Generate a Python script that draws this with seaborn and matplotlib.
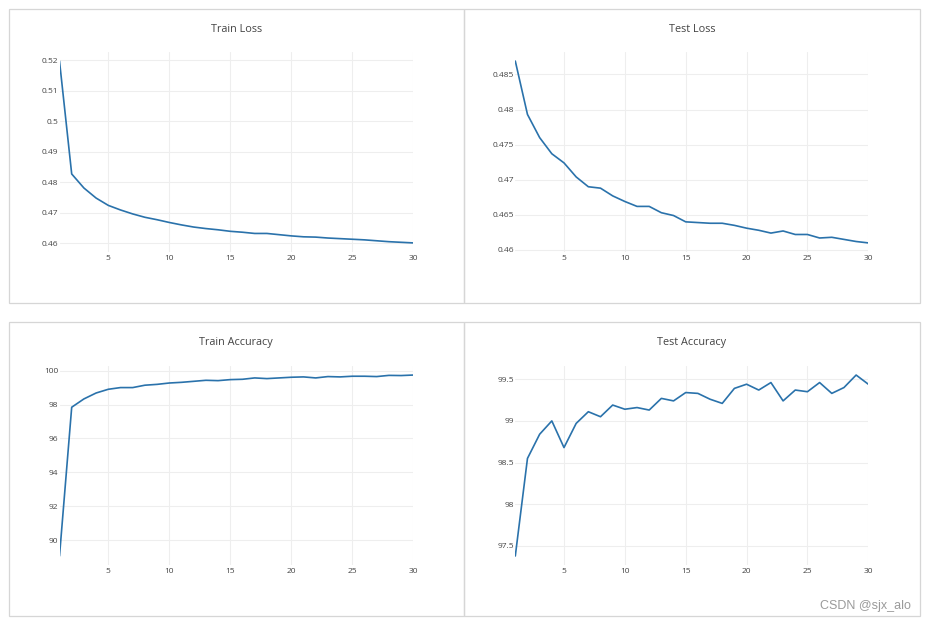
import numpy as np
import pandas as pd
import seaborn as sns
import matplotlib.pyplot as plt
from matplotlib.patches import Rectangle
from matplotlib.ticker import FixedLocator, FuncFormatter

epochs = list(range(1, 31))

train_loss = [0.5197, 0.4827, 0.4781, 0.4748, 0.4724, 0.4709, 0.4696, 0.4685, 0.4677, 0.4668,
              0.4660, 0.4653, 0.4648, 0.4644, 0.4639, 0.4636, 0.4632, 0.4632, 0.4628, 0.4624,
              0.4621, 0.4620, 0.4617, 0.4615, 0.4613, 0.4611, 0.4608, 0.4605, 0.4603, 0.4601]

test_loss = [0.4869, 0.4793, 0.4760, 0.4737, 0.4724, 0.4704, 0.4690, 0.4688, 0.4677, 0.4669,
             0.4662, 0.4662, 0.4653, 0.4649, 0.4640, 0.4639, 0.4638, 0.4638, 0.4635, 0.4631,
             0.4628, 0.4624, 0.4627, 0.4622, 0.4622, 0.4617, 0.4618, 0.4615, 0.4612, 0.4610]

train_acc = [89.06, 97.84, 98.33, 98.68, 98.90, 99.00, 99.00, 99.14, 99.19, 99.27,
             99.31, 99.37, 99.43, 99.41, 99.47, 99.49, 99.57, 99.53, 99.57, 99.61,
             99.63, 99.57, 99.65, 99.63, 99.67, 99.67, 99.65, 99.72, 99.71, 99.74]

test_acc = [97.38, 98.55, 98.84, 99.00, 98.68, 98.97, 99.11, 99.05, 99.19, 99.14,
            99.16, 99.13, 99.27, 99.24, 99.34, 99.33, 99.26, 99.21, 99.39, 99.44,
            99.37, 99.46, 99.24, 99.37, 99.35, 99.46, 99.33, 99.40, 99.55, 99.44]

titles = ["Train Loss", "Test Loss", "Train Accuracy", "Test Accuracy"]
yticks = [
    [0.46, 0.47, 0.48, 0.49, 0.50, 0.51, 0.52],
    [0.46, 0.465, 0.47, 0.475, 0.48, 0.485],
    [90, 92, 94, 96, 98, 100],
    [97.5, 98, 98.5, 99, 99.5],
]
xticks = [5, 10, 15, 20, 25, 30]

sns.set_style("white")
plt.rcParams["font.family"] = ["Open Sans", "DejaVu Sans"]

W, H = 926, 623
fig = plt.figure(figsize=(W / 100, H / 100), dpi=100)

# panel boxes (pixels): x0, y0, x1, y1
boxes = [(8.5, 8.5, 464, 302.5), (464, 8.5, 920, 302.5),
         (8.5, 321.5, 464, 616), (464, 321.5, 920, 616)]
# plot areas (pixels): left, top, right, bottom
areas = [(59.5, 52, 413.3, 252), (515.3, 52, 868.3, 252),
         (59.5, 366, 413.3, 565), (515.3, 366, 868.3, 565)]
title_y = [29, 29, 343, 343]

for x0, y0, x1, y1 in boxes:
    fig.patches.append(Rectangle((x0 / W, 1 - y1 / H), (x1 - x0) / W, (y1 - y0) / H,
                                 transform=fig.transFigure, fill=False,
                                 edgecolor="#d6d6d6", linewidth=0.9))


def fmt(v, pos):
    return f"{v:.3f}".rstrip("0").rstrip(".")


series = [train_loss, test_loss, train_acc, test_acc]
for i, vals in enumerate(series):
    l, t, r, b = areas[i]
    ax = fig.add_axes([l / W, 1 - b / H, (r - l) / W, (b - t) / H])
    df = pd.DataFrame({"epoch": epochs, "value": vals})
    sns.lineplot(data=df, x="epoch", y="value", ax=ax, color="#2a72ab", linewidth=1.2)
    lo, hi = min(vals), max(vals)
    pad = (hi - lo) * 0.05
    ax.set_ylim(lo - pad, hi + pad)
    ax.set_xlim(1, 30)
    ax.xaxis.set_major_locator(FixedLocator(xticks))
    ax.yaxis.set_major_locator(FixedLocator(yticks[i]))
    ax.yaxis.set_major_formatter(FuncFormatter(fmt))
    ax.set_xlabel("")
    ax.set_ylabel("")
    ax.grid(True, color="#eeeeee", linewidth=0.8)
    for sp in ax.spines.values():
        sp.set_visible(False)
    ax.tick_params(axis="both", length=0, labelsize=6, labelcolor="#444444")
    ax.tick_params(axis="y", pad=0.8)
    ax.tick_params(axis="x", pad=2.2)
    cx = (boxes[i][0] + boxes[i][2]) / 2
    fig.text(cx / W, 1 - title_y[i] / H, titles[i], ha="center", va="center",
             fontsize=7.8, color="#444444")

fig.text(911 / W, 1 - 606 / H, "CSDN @sjx_alo", ha="right", va="center",
         fontsize=9, color="#9a9a9a", family=["Liberation Sans", "DejaVu Sans"])

plt.savefig("out.png", dpi=100)
